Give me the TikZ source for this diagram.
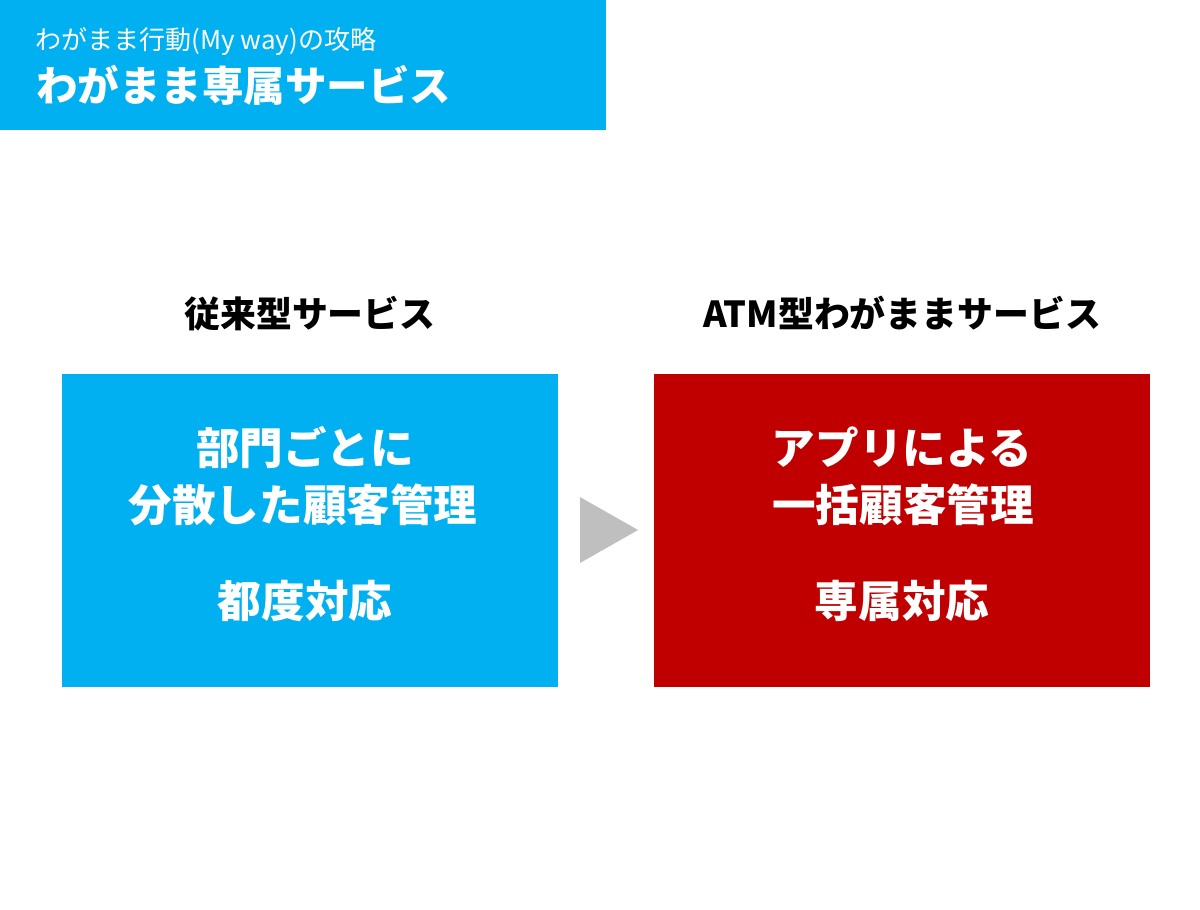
\documentclass[tikz,border=0pt]{standalone}
\usepackage{fontspec}
\setmainfont{Noto Sans CJK JP}
\usepackage{xcolor}
\usepackage{tikz}
\usetikzlibrary{positioning}

\definecolor{wcyan}{HTML}{00B0F0}
\definecolor{wred}{HTML}{C00000}
\definecolor{wgray}{HTML}{BFBFBF}

\begin{document}
\begin{tikzpicture}[x=0.025cm, y=-0.025cm,
panel/.style={inner sep=0pt, outer sep=0pt},
boxtext/.style={anchor=base, text=white, font=\fontsize{31}{34}\selectfont\bfseries},
heading/.style={anchor=base, text=black, font=\fontsize{25.5}{30}\selectfont\bfseries}]

\def\boxW{496}
\def\boxH{313}
\def\lineA{464}
\def\lineB{521}
\def\lineC{617}

\useasboundingbox (0,0) rectangle (1200,909);
\fill[white] (0,0) rectangle (1200,909);

% HEADER
\fill[wcyan] (0,0) rectangle (606,130);
\node[anchor=base west, inner sep=0pt, text=white, font=\fontsize{18.5}{20}\selectfont] (sub) at (35,49) {わがまま行動(My way)の攻略};
\node[anchor=base west, inner sep=0pt, text=white, font=\fontsize{29.5}{34}\selectfont\bfseries] (title) at (36,101) {わがまま専属サービス};

% headings
\node[heading] (hleft) at (310,327) {従来型サービス};
\node[heading] (hright) at (902,327) {ATM型わがままサービス};

% boxes
\fill[wcyan] (62,374) rectangle ++(\boxW,\boxH);
\fill[wred] (654,374) rectangle ++(\boxW,\boxH);

\node[boxtext] (la) at (305,\lineA) {部門ごとに};
\node[boxtext] (lb) at (303,\lineB) {分散した顧客管理};
\node[boxtext] (lc) at (305,\lineC) {都度対応};

\node[boxtext] (ra) at (902,\lineA) {アプリによる};
\node[boxtext] (rb) at (903,\lineB) {一括顧客管理};
\node[boxtext] (rc) at (902,\lineC) {専属対応};

% arrow
\fill[wgray] (580,497) -- (638,530) -- (580,563) -- cycle;

\end{tikzpicture}
\end{document}
